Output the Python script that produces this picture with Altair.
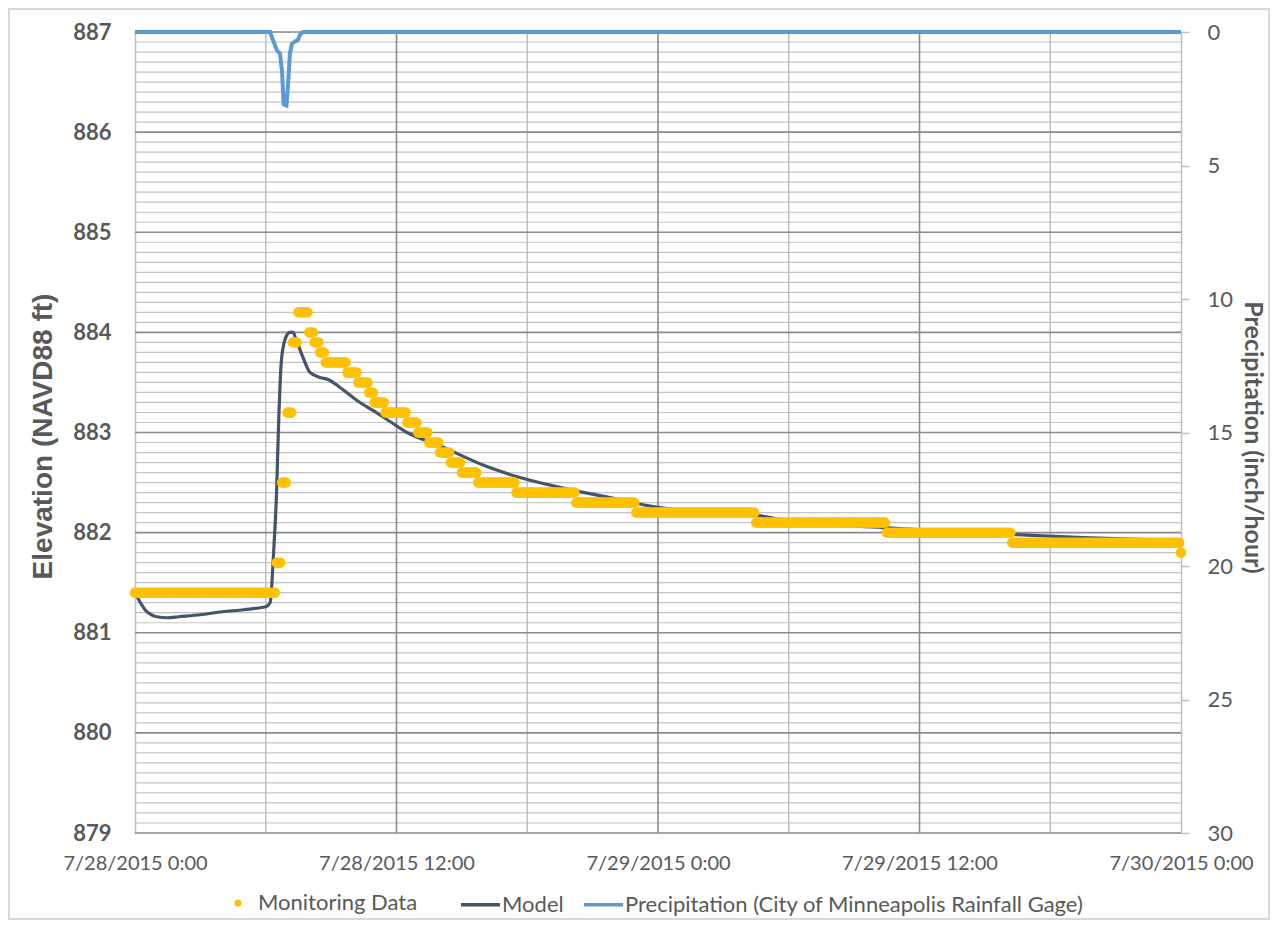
import altair as alt
import pandas as pd
import numpy as np

# ---------------- values ----------------
X_TICKS = [0, 12, 24, 36, 48]            # hours since 7/28/2015 0:00
X_LABELS = ["7/28/2015 0:00", "7/28/2015 12:00", "7/29/2015 0:00",
            "7/29/2015 12:00", "7/30/2015 0:00"]
Y_TICKS = [879, 880, 881, 882, 883, 884, 885, 886, 887]
P_TICKS = [0, 5, 10, 15, 20, 25, 30]

# Monitoring data: 5-minute readings, stored as runs of equal readings
MON_STEP_H = 1 / 12
MON_LEVELS = [881.4, 881.7, 882.5, 883.2, 883.9, 884.2, 884.0, 883.9, 883.8,
              883.7, 883.6, 883.5, 883.4, 883.3, 883.2, 883.1, 883.0, 882.9,
              882.8, 882.7, 882.6, 882.5, 882.4, 882.3, 882.2, 882.1, 882.0,
              881.9, 881.8]
MON_COUNTS = [78, 3, 3, 3, 3, 6, 3, 3, 3,
              12, 6, 6, 3, 6, 12, 6, 6, 6,
              6, 6, 9, 21, 33, 33, 66, 72, 69,
              93, 1]

MODEL_T = [0, 0.25, 0.5, 0.75, 1.0, 1.5, 2, 3, 4, 5, 6.0, 6.2, 6.35, 6.5,
           6.58, 6.73, 6.96, 7.11, 7.26, 7.34, 7.48, 7.71, 8.03, 8.49, 8.86,
           9.41, 10.19, 10.92, 11.7, 12.48, 13.86, 16.15, 17.67, 19.96, 22.26,
           23.77, 25.33, 28.36, 29.92, 34.33, 35.89, 40.48, 43.51, 48.0]
MODEL_V = [881.40, 881.30, 881.22, 881.18, 881.16, 881.15, 881.16, 881.18,
           881.21, 881.23, 881.26, 881.30, 881.76, 882.43, 883.02, 883.75,
           883.97, 884.00, 884.00, 883.96, 883.88, 883.75, 883.60, 883.55,
           883.53, 883.45, 883.32, 883.22, 883.11, 883.00, 882.88, 882.66,
           882.55, 882.43, 882.33, 882.26, 882.22, 882.18, 882.12, 882.05,
           882.03, 881.98, 881.95, 881.92]

PRECIP_T = [0, 6.20, 6.33, 6.52, 6.65, 6.75, 6.82, 6.95, 7.02, 7.11, 7.20,
            7.34, 7.48, 7.57, 7.71, 48]
PRECIP_V = [0, 0, 0.3, 0.7, 0.8, 1.5, 2.7, 2.75, 2.0, 0.8, 0.45, 0.35, 0.3,
            0.1, 0, 0]

S_MON = "Monitoring Data"
S_MODEL = "Model"
S_PRECIP = "Precipitation (City of Minneapolis Rainfall Gage)"

# ---------------- tables ----------------
mon_v = np.repeat(MON_LEVELS, MON_COUNTS)
mon_df = pd.DataFrame({"t": np.arange(len(mon_v)) * MON_STEP_H, "v": mon_v, "series": S_MON})
model_df = pd.DataFrame({"t": MODEL_T, "v": MODEL_V, "series": S_MODEL})
precip_df = pd.DataFrame({"t": PRECIP_T, "p": PRECIP_V, "series": S_PRECIP})

minor_h = pd.DataFrame({"v": [round(879 + 0.1 * i, 1) for i in range(81) if i % 10 != 0]})
major_h = pd.DataFrame({"v": Y_TICKS})
minor_v = pd.DataFrame({"t": [6, 18, 30, 42]})
major_v = pd.DataFrame({"t": [12, 24, 36]})
frame_df = pd.DataFrame({"k": [0]})

TEXT = "#595959"
FONT = "Lato"

xscale = alt.Scale(domain=[0, 48], nice=False, zero=False)
yscale = alt.Scale(domain=[879, 887], nice=False, zero=False)
pscale = alt.Scale(domain=[0, 30], reverse=True, nice=False, zero=False)

label_expr = "[" + ",".join("'%s'" % s for s in X_LABELS) + "][round(datum.value/12)]"
x_axis = alt.Axis(values=X_TICKS, labelExpr=label_expr, grid=False, ticks=False,
                  domain=False, labelFontSize=20, labelColor=TEXT, labelFont=FONT,
                  labelPadding=20, labelFlush=False, labelOverlap=False, title=None)
y_axis = alt.Axis(values=Y_TICKS, format="d", grid=False, ticks=False, domain=True,
                  domainColor="#BFBFBF", domainWidth=1.5, labelFontSize=22,
                  labelFontWeight="bold", labelColor=TEXT, labelFont=FONT,
                  labelPadding=24, title="Elevation (NAVD88 ft)",
                  titleFont="Liberation Sans", titleFontSize=28, titleFontWeight="bold",
                  titleColor=TEXT, titleAngle=-90, titleX=-92, titleY=404,
                  titleAlign="center", titleBaseline="middle")
p_axis = alt.Axis(orient="right", values=P_TICKS, grid=False, ticks=True, tickSize=8,
                  tickColor="#BFBFBF", tickWidth=1.5, domain=True, domainColor="#BFBFBF",
                  domainWidth=1.5, labelFontSize=22, labelColor=TEXT, labelFont=FONT,
                  labelPadding=18, title="Precipitation (inch/hour)", titleFont=FONT,
                  titleFontSize=25, titleFontWeight="bold", titleColor=TEXT,
                  titleAngle=90, titleX=71, titleY=405, titleAlign="center",
                  titleBaseline="middle")

stroke_legend = alt.Legend(orient="none", legendX=324, legendY=851, direction="horizontal",
                           title=None, symbolType="stroke", symbolSize=1521,
                           symbolStrokeWidth=3.5, labelFontSize=22, labelFont=FONT,
                           labelColor=TEXT, labelOffset=0, columnPadding=13, padding=0,
                           labelLimit=800)
fill_legend = alt.Legend(orient="none", legendX=92, legendY=860, direction="horizontal",
                         title=None, symbolType="circle", symbolSize=50, labelFontSize=22,
                         labelFont=FONT, labelColor=TEXT, labelOffset=9, padding=0,
                         labelLimit=400)
stroke_scale = alt.Scale(domain=[S_MODEL, S_PRECIP], range=["#44546A", "#5B9BD5"])

X = alt.X("t:Q", scale=xscale, axis=x_axis)
Y = alt.Y("v:Q", scale=yscale, axis=y_axis)

g_minor_h = alt.Chart(minor_h).mark_rule(color="#C4C4C4", strokeWidth=1.2).encode(y=Y)
g_major_h = alt.Chart(major_h).mark_rule(color="#8C8C8C", strokeWidth=1.6).encode(y=Y)
g_minor_v = alt.Chart(minor_v).mark_rule(color="#BFBFBF", strokeWidth=1.5).encode(x=X)
g_major_v = alt.Chart(major_v).mark_rule(color="#8C8C8C", strokeWidth=1.6).encode(x=X)

model = alt.Chart(model_df).mark_line(strokeWidth=3.2, interpolate="monotone").encode(
    x=X, y=Y,
    stroke=alt.Stroke("series:N", scale=stroke_scale, legend=stroke_legend))

mon = alt.Chart(mon_df).mark_circle(size=110, opacity=1).encode(
    x=X, y=Y,
    fill=alt.Fill("series:N", scale=alt.Scale(domain=[S_MON], range=["#FFC000"]),
                  legend=fill_legend))

left = alt.layer(g_minor_h, g_minor_v, g_major_h, g_major_v, model, mon)

precip = alt.Chart(precip_df).mark_line(strokeWidth=4).encode(
    x=X,
    y=alt.Y("p:Q", scale=pscale, axis=p_axis),
    stroke=alt.Stroke("series:N", scale=stroke_scale, legend=stroke_legend))

# light chart-area border (decoration)
frame = alt.Chart(frame_df).mark_rect(fill=None, stroke="#D9D9D9", strokeWidth=2).encode(
    x=alt.value(-126), x2=alt.value(1134), y=alt.value(-23), y2=alt.value(887))

chart = alt.layer(left, precip, frame).resolve_scale(y="independent").properties(
    width=1046, height=801, autosize="none",
    padding={"left": 127, "top": 24, "right": 90, "bottom": 88},
    background="white",
).configure_view(stroke=None).configure(font=FONT)

chart.save("out.html", embed_options={"renderer": "svg", "actions": False})
